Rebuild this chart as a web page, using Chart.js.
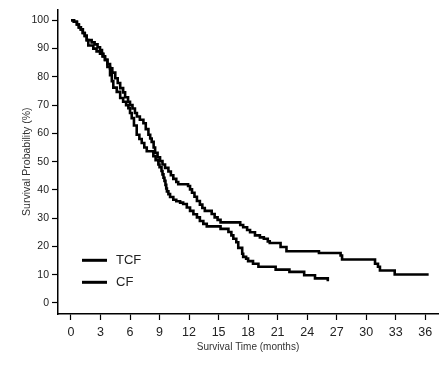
<!DOCTYPE html>
<html>
<head>
<meta charset="utf-8">
<script src="https://cdn.jsdelivr.net/npm/chart.js@4/dist/chart.umd.min.js"></script>
<style>
  html, body { margin: 0; padding: 0; background: #fff; }
  #wrap { width: 439px; height: 366px; position: relative; }
</style>
</head>
<body>
<div id="wrap"><canvas id="c" width="439" height="366"></canvas></div>
<script>
// Kaplan-Meier step points: time (months) at which survival drops to the value
const seriesNames = ['TCF', 'CF'];
const tcfMonths = [0, 0.3, 0.6, 0.8, 1.0, 1.2, 1.4, 1.6, 2.1, 2.4, 2.7, 2.95, 3.15, 3.3, 3.45, 3.7, 3.97, 4.2, 4.5, 4.75, 5.0, 5.3, 5.5, 5.8, 6.0, 6.25, 6.5, 6.7, 7.0, 7.36, 7.6, 7.87, 8.05, 8.2, 8.4, 8.55, 8.8, 9.05, 9.3, 9.56, 9.9, 10.15, 10.4, 10.7, 10.9, 11.9, 12.1, 12.3, 12.55, 12.8, 13.1, 13.35, 13.6, 14.3, 14.6, 14.9, 15.2, 17.2, 17.5, 17.9, 18.2, 18.7, 19.2, 19.6, 20.0, 20.2, 21.3, 21.9, 25.2, 27.4, 27.55, 30.9, 31.2, 31.4, 32.9, 36.35];
const tcfSurv   = [100, 99.5, 98.5, 97.5, 96.8, 95.5, 94.5, 93, 92.2, 91.5, 90.5, 89.5, 88.2, 87.3, 86, 84.5, 83, 81.5, 79.5, 77.8, 76, 74.5, 72.8, 71.2, 70, 68.8, 67.2, 66, 64.8, 63.6, 61.5, 59.5, 58.2, 57, 55, 53.1, 51.5, 50.2, 49, 47.8, 46.5, 45.2, 43.9, 42.8, 42, 41.4, 40.2, 39, 37.6, 36.1, 34.8, 33.6, 32.6, 31.5, 30.3, 29.4, 28.5, 27.6, 26.8, 25.8, 25, 23.9, 23.2, 22.7, 21.8, 21.2, 19.8, 18.3, 17.7, 16.8, 15.4, 13.9, 12.8, 11.5, 10.1, 10.1];
const cfMonths  = [0, 0.3, 0.6, 0.8, 1.0, 1.2, 1.4, 1.6, 1.76, 2.27, 2.6, 2.95, 3.2, 3.46, 3.7, 3.97, 4.15, 4.3, 4.65, 5.0, 5.3, 5.6, 5.83, 6.0, 6.17, 6.4, 6.68, 6.95, 7.19, 7.45, 7.7, 8.37, 8.6, 8.88, 9.0, 9.2, 9.3, 9.4, 9.5, 9.6, 9.68, 9.75, 9.9, 10.07, 10.4, 10.7, 11.09, 11.4, 11.77, 12.1, 12.44, 12.8, 13.1, 13.45, 13.8, 15.2, 16.0, 16.3, 16.5, 16.8, 17.0, 17.4, 17.5, 17.8, 18.0, 18.5, 19.05, 20.8, 22.2, 23.7, 24.8, 26.1];
const cfSurv    = [100, 99.5, 98.5, 97.5, 96.8, 95.5, 94.5, 93, 91.1, 90, 89, 88.2, 87.2, 86, 83.5, 80.6, 78.5, 76.2, 74.7, 72.5, 71.2, 70, 68.9, 67.2, 65.4, 62.8, 59.5, 58, 56.6, 55, 53.7, 51.9, 50.5, 49, 48, 46.7, 45.5, 44.3, 43.2, 41.8, 40.5, 39.5, 38.5, 37.5, 36.5, 36.0, 35.5, 35, 33.8, 32.6, 31.4, 30.3, 29, 28, 27.1, 26.2, 25.1, 23.9, 22.7, 21.5, 19.5, 17.4, 16.3, 15.7, 14.8, 13.9, 12.8, 11.8, 11, 9.8, 8.7, 7.7, 7.7];
const xTicks = [0, 3, 6, 9, 12, 15, 18, 21, 24, 27, 30, 33, 36];
const yTicks = [0, 10, 20, 30, 40, 50, 60, 70, 80, 90, 100];
const xTitle = 'Survival Time (months)';
const yTitle = 'Survival Probability (%)';

const toPts = (xs, ys) => xs.map((x, i) => ({ x: x, y: ys[i] }));

const insideLegend = {
  id: 'insideLegend',
  afterDatasetsDraw(chart) {
    const { ctx, chartArea } = chart;
    ctx.save();
    chart.data.datasets.forEach((ds, i) => {
      const y = chartArea.top + 251 + i * 22;
      const x0 = chartArea.left + 24;
      ctx.strokeStyle = ds.borderColor;
      ctx.lineWidth = 3;
      ctx.beginPath();
      ctx.moveTo(x0, y);
      ctx.lineTo(x0 + 25, y);
      ctx.stroke();
      ctx.fillStyle = '#222';
      ctx.font = '13px "Liberation Sans", Arial, sans-serif';
      ctx.textBaseline = 'middle';
      ctx.textAlign = 'left';
      ctx.fillText(ds.label, x0 + 34, y + 0.5);
    });
    ctx.restore();
  }
};

new Chart(document.getElementById('c'), {
  type: 'line',
  data: {
    datasets: [
      { label: seriesNames[0], data: toPts(tcfMonths, tcfSurv), stepped: true, borderColor: '#000', borderWidth: 2.6, pointRadius: 0, fill: false },
      { label: seriesNames[1], data: toPts(cfMonths, cfSurv), stepped: true, borderColor: '#000', borderWidth: 2.6, pointRadius: 0, fill: false }
    ]
  },
  options: {
    responsive: false,
    animation: false,
    layout: { padding: { top: 7, right: 1, left: 0, bottom: 0 } },
    plugins: { legend: { display: false }, tooltip: { enabled: false } },
    scales: {
      x: {
        type: 'linear',
        min: -1.32,
        max: 37.3,
        afterBuildTicks: (s) => { s.ticks = xTicks.map(v => ({ value: v })); },
        afterFit: (s) => { s.height = 52; },
        grid: { drawOnChartArea: false, drawTicks: true, tickLength: 6, tickColor: '#000', tickWidth: 1.2 },
        border: { color: '#000', width: 1.5 },
        ticks: { color: '#222', font: { family: '"Liberation Sans", Arial, sans-serif', size: 12.5 }, padding: 5, maxRotation: 0, autoSkip: false },
        title: { display: true, text: xTitle, color: '#333', font: { family: '"Liberation Sans", Arial, sans-serif', size: 10 }, padding: { top: 0, bottom: 13 } }
      },
      y: {
        type: 'linear',
        min: -3.9,
        max: 103.9,
        afterBuildTicks: (s) => { s.ticks = yTicks.map(v => ({ value: v })); },
        afterFit: (s) => { s.width = 58; },
        grid: { drawOnChartArea: false, drawTicks: true, tickLength: 6, tickColor: '#000', tickWidth: 1.2 },
        border: { color: '#000', width: 1.5 },
        ticks: { color: '#222', font: { family: '"Liberation Sans", Arial, sans-serif', size: 10.5 }, padding: 3, autoSkip: false },
        title: { display: true, text: yTitle, color: '#333', font: { family: '"Liberation Sans", Arial, sans-serif', size: 10.5 }, padding: { top: 21, bottom: 0 } }
      }
    }
  },
  plugins: [insideLegend]
});
</script>
</body>
</html>
